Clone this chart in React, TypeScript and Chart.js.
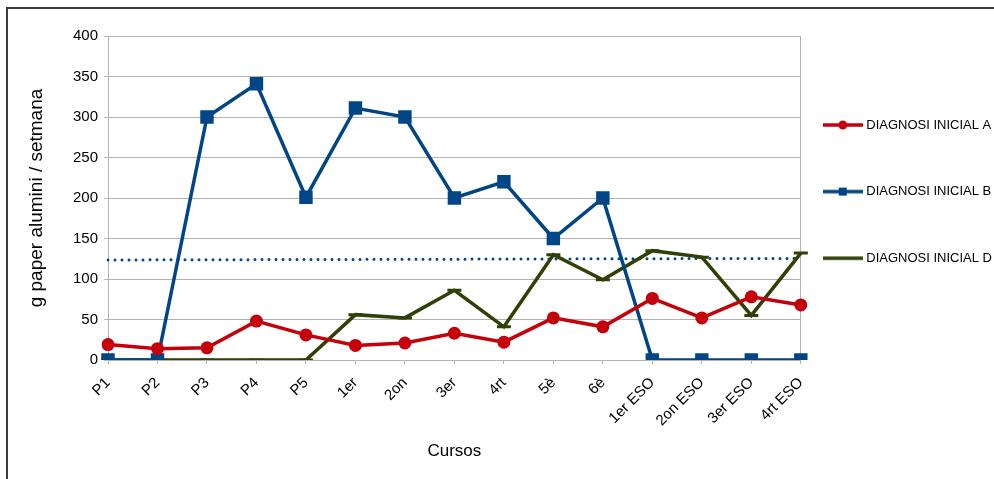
import { useEffect, useRef } from 'react';
import { Chart, registerables } from 'chart.js';

Chart.register(...registerables);

const CATEGORIES = ['P1', 'P2', 'P3', 'P4', 'P5', '1er', '2on', '3er', '4rt', '5è', '6è', '1er ESO', '2on ESO', '3er ESO', '4rt ESO'];
const SERIES_A = [19, 14, 15, 48, 31, 18, 21, 33, 22, 52, 41, 76, 52, 78, 68];
const SERIES_B = [0, 0, 300, 341, 201, 311, 300, 200, 220, 150, 200, 0, 0, 0, 0];
const SERIES_D = [0, 0, 0, 0, 0, 56, 52, 86, 41, 130, 99, 135, 127, 55, 132];
const TREND = [123.5, null, null, null, null, null, null, null, null, null, null, null, null, null, 125.5];
const LABEL_A = 'DIAGNOSI INICIAL A';
const LABEL_B = 'DIAGNOSI INICIAL B';
const LABEL_D = 'DIAGNOSI INICIAL D';
const Y_TITLE = 'g paper alumini / setmana';
const X_TITLE = 'Cursos';
const Y_MIN = 0;
const Y_MAX = 400;
const Y_STEP = 50;

const RED = '#c5000b';
const BLUE = '#004586';
const GREEN = '#314004';
const GRID = '#b3b3b3';
const FONT = '"Liberation Sans", Arial, sans-serif';

function makeIcon(color: string, marker: string) {
  const c = document.createElement('canvas');
  c.width = 40;
  c.height = 14;
  const g = c.getContext('2d')!;
  g.strokeStyle = color;
  g.fillStyle = color;
  g.lineWidth = 3.5;
  g.beginPath();
  g.moveTo(0, 7);
  g.lineTo(40, 7);
  g.stroke();
  if (marker === 'circle') {
    g.beginPath();
    g.arc(20, 7, 4.5, 0, Math.PI * 2);
    g.fill();
  } else if (marker === 'rect') {
    g.fillRect(16, 3, 8, 8);
  }
  return c;
}

export default function App() {
  const ref = useRef<HTMLCanvasElement | null>(null);

  useEffect(() => {
    if (!ref.current) return;
    const icons = [makeIcon(RED, 'circle'), makeIcon(BLUE, 'rect'), makeIcon(GREEN, 'none')];
    const last = CATEGORIES.length - 1;
    const chart = new Chart(ref.current, {
      type: 'line',
      data: {
        labels: CATEGORIES,
        datasets: [
          {
            label: LABEL_A,
            data: SERIES_A,
            borderColor: RED,
            backgroundColor: RED,
            borderWidth: 3.5,
            pointStyle: 'circle',
            pointRadius: 6.5,
            pointBorderWidth: 0,
            tension: 0,
          },
          {
            label: LABEL_B,
            data: SERIES_B,
            borderColor: BLUE,
            backgroundColor: BLUE,
            borderWidth: 3.5,
            pointStyle: 'rect',
            pointRadius: 9.5,
            pointBorderWidth: 0,
            tension: 0,
          },
          {
            label: LABEL_D,
            data: SERIES_D,
            borderColor: GREEN,
            backgroundColor: GREEN,
            borderWidth: 3.5,
            pointStyle: 'line',
            pointRadius: 7,
            pointBorderWidth: 3,
            pointBorderColor: GREEN,
            tension: 0,
          },
          {
            label: 'trend',
            data: TREND,
            borderColor: BLUE,
            borderWidth: 3,
            borderDash: [0, 7],
            borderCapStyle: 'round',
            pointRadius: 0,
            spanGaps: true,
            tension: 0,
          },
        ],
      },
      options: {
        responsive: false,
        animation: false,
        devicePixelRatio: 1,
        layout: { padding: { top: 27, left: 0, right: 6, bottom: 0 } },
        plugins: {
          tooltip: { enabled: false },
          legend: {
            position: 'right',
            align: 'start',
            title: {
              display: true,
              text: ' ',
              font: { size: 10, lineHeight: 1 },
              padding: { top: 47.5, bottom: 0 },
            },
            labels: {
              color: '#000',
              font: { family: FONT, size: 13, lineHeight: 3.2 },
              usePointStyle: true,
              pointStyleWidth: 34,
              padding: 25,
              filter: (item: any) => item.datasetIndex < 3,
              generateLabels: (ch: any) => {
                const base = Chart.defaults.plugins.legend.labels.generateLabels(ch);
                return base.map((it: any) => ({
                  ...it,
                  text: [it.text],
                  pointStyle: it.datasetIndex < 3 ? icons[it.datasetIndex] : it.pointStyle,
                }));
              },
            },
          },
        },
        scales: {
          x: {
            type: 'category',
            offset: false,
            border: { color: GRID, width: 1 },
            grid: {
              display: true,
              drawOnChartArea: true,
              drawTicks: true,
              tickLength: 4,
              tickColor: GRID,
              color: (ctx: any) => (ctx.index === last ? GRID : 'rgba(0,0,0,0)'),
            },
            ticks: {
              color: '#000',
              font: { family: FONT, size: 15 },
              minRotation: 45,
              maxRotation: 45,
              autoSkip: false,
              padding: 10,
            },
            title: {
              display: true,
              text: X_TITLE,
              color: '#000',
              font: { family: FONT, size: 17 },
              padding: { top: 0, bottom: 17 },
            },
            afterFit: (scale: any) => {
              scale.height = 119;
            },
          },
          y: {
            min: Y_MIN,
            max: Y_MAX,
            border: { color: GRID, width: 1 },
            grid: {
              color: GRID,
              tickColor: GRID,
              tickLength: 4,
              drawTicks: true,
            },
            ticks: {
              stepSize: Y_STEP,
              color: '#000',
              font: { family: FONT, size: 15 },
              padding: 6,
            },
            title: {
              display: true,
              text: Y_TITLE,
              color: '#000',
              font: { family: FONT, size: 19 },
              padding: { top: 17, bottom: 0 },
            },
            afterFit: (scale: any) => {
              scale.width = 100;
            },
          },
        },
      },
    } as any);
    return () => chart.destroy();
  }, []);

  return (
    <div
      style={{
        position: 'fixed',
        left: 6,
        top: 7,
        width: 988,
        height: 472,
        overflow: 'hidden',
        borderLeft: '2px solid #3c3c3c',
        borderTop: '2px solid #3c3c3c',
        boxSizing: 'border-box',
        background: '#fff',
      }}
    >
      <canvas ref={ref} width={1000} height={470} style={{ display: 'block' }} />
    </div>
  );
}
